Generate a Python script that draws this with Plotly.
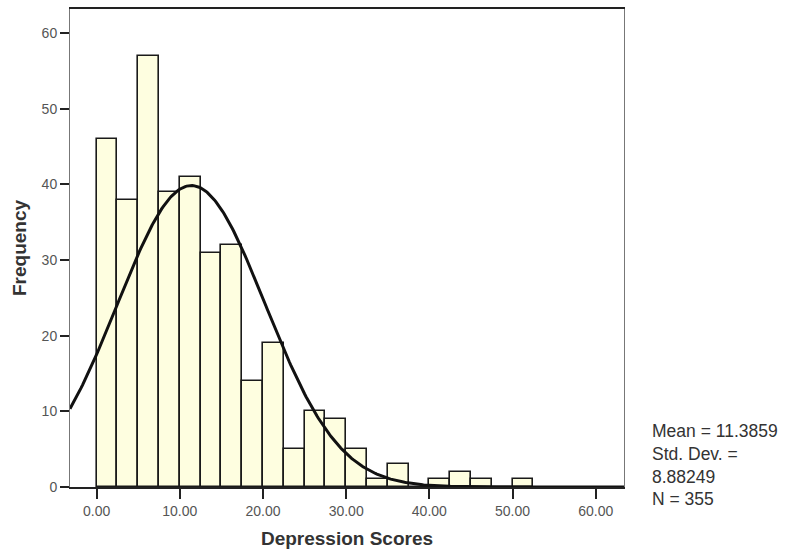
import numpy as np
import plotly.graph_objects as go

# Histogram of depression scores (bin width 2.5, starting at 0)
bin_width = 2.5
bin_starts = [0.0, 2.5, 5.0, 7.5, 10.0, 12.5, 15.0, 17.5, 20.0, 22.5, 25.0,
              27.5, 30.0, 32.5, 35.0, 37.5, 40.0, 42.5, 45.0, 47.5, 50.0]
frequencies = [46, 38, 57, 39, 41, 31, 32, 14, 19, 5, 10,
               9, 5, 1, 3, 0, 1, 2, 1, 0, 1]

# Summary statistics
mean_score = 11.3859
std_dev = 8.88249
n_cases = 355

x_ticks = [0, 10, 20, 30, 40, 50, 60]
x_tick_labels = ["0.00", "10.00", "20.00", "30.00", "40.00", "50.00", "60.00"]
y_ticks = [0, 10, 20, 30, 40, 50, 60]

x_range = [-3.2, 63.4]
y_range = [0, 63.2]

bin_centers = [s + bin_width / 2 for s in bin_starts]

# Fitted normal curve scaled to counts
curve_x = np.linspace(x_range[0], x_range[1], 400)
curve_y = (n_cases * bin_width / (std_dev * np.sqrt(2 * np.pi))
           * np.exp(-0.5 * ((curve_x - mean_score) / std_dev) ** 2))

font_family = "Liberation Sans, Arial, sans-serif"

fig = go.Figure()
fig.add_trace(go.Bar(
    x=bin_centers,
    y=frequencies,
    width=bin_width,
    marker=dict(color="#FEFEE0", line=dict(color="#1a1a1a", width=1.6)),
    hoverinfo="x+y",
))
fig.add_trace(go.Scatter(
    x=curve_x,
    y=curve_y,
    mode="lines",
    line=dict(color="#111111", width=3),
    hoverinfo="skip",
))

fig.update_layout(
    width=800,
    height=553,
    margin=dict(l=70, r=176, t=9, b=66),
    paper_bgcolor="white",
    plot_bgcolor="white",
    showlegend=False,
    bargap=0,
    font=dict(family=font_family, color="#444444", size=14),
    xaxis=dict(
        range=x_range,
        tickvals=x_ticks,
        ticktext=x_tick_labels,
        ticks="outside",
        ticklen=10,
        tickwidth=1.6,
        tickcolor="#222222",
        showgrid=False,
        zeroline=False,
        showline=True,
        linecolor="#222222",
        linewidth=1.6,
        mirror=True,
        automargin=False,
        tickfont=dict(size=14, color="#555555"),
        title=dict(text="<b>Depression Scores</b>",
                   font=dict(size=19, color="#333333"), standoff=14),
    ),
    yaxis=dict(
        range=y_range,
        tickvals=y_ticks,
        ticks="outside",
        ticklen=9,
        tickwidth=1.6,
        tickcolor="#222222",
        showgrid=False,
        zeroline=False,
        showline=True,
        linecolor="#777777",
        linewidth=1,
        mirror=True,
        automargin=False,
        tickfont=dict(size=14, color="#555555"),
        title=dict(text="<b>Frequency</b>",
                   font=dict(size=19, color="#333333"), standoff=9),
    ),
)

stats_text = (f"Mean = {mean_score}<br>Std. Dev. =<br>{std_dev}<br>N = {n_cases}")
fig.add_annotation(
    text=stats_text,
    xref="paper", yref="paper",
    x=1.0, y=0.047,
    xshift=26,
    xanchor="left", yanchor="middle",
    align="left",
    showarrow=False,
    font=dict(size=17.5, color="#333333", family=font_family),
)

fig.write_html("out.html")
